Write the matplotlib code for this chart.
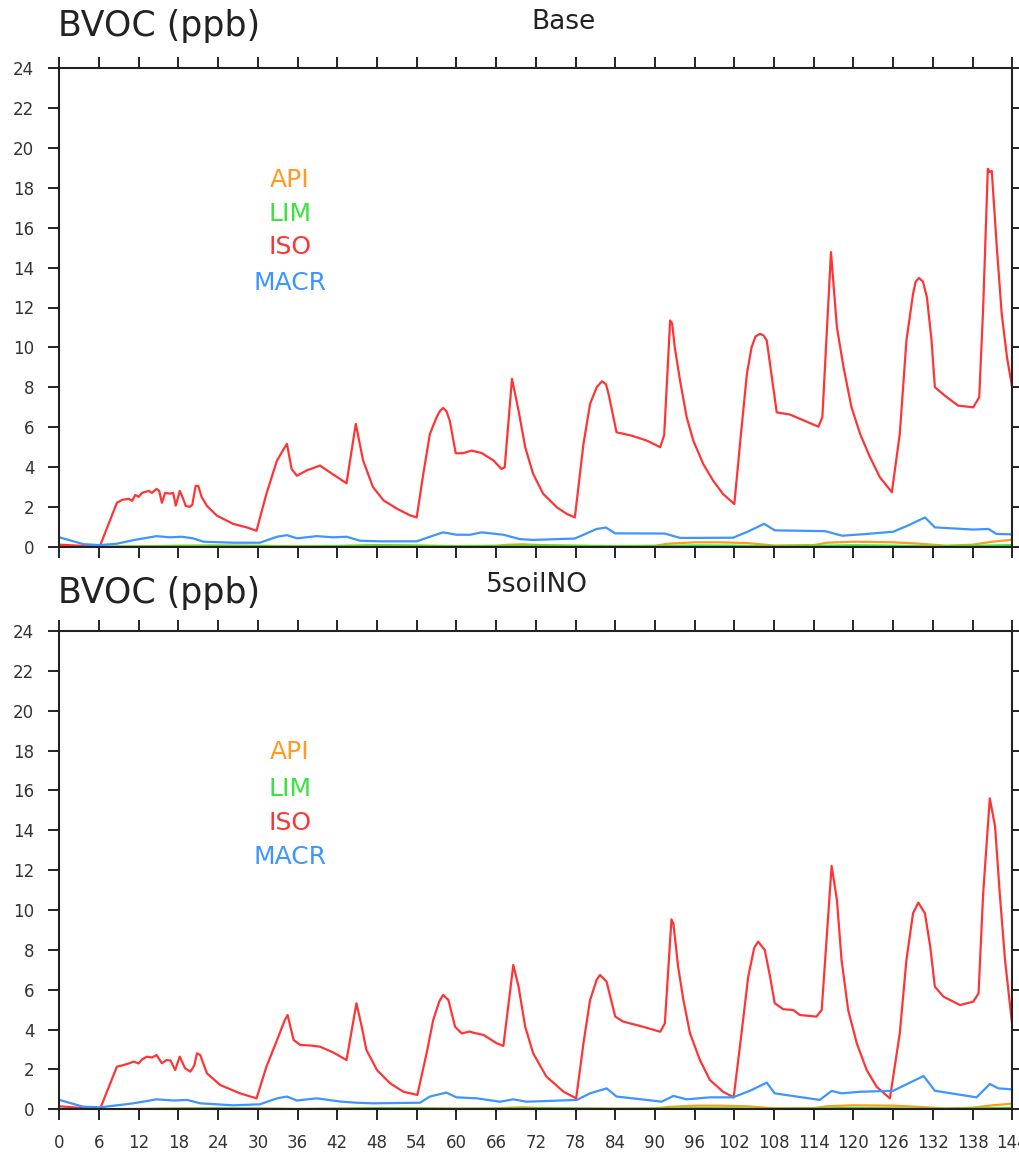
import matplotlib
matplotlib.use("Agg")
import matplotlib.pyplot as plt
import numpy as np

# ---- data (hours since start, ppb) ----
base_iso_h = [0, 3, 6.1, 8.7, 9.5, 10.5, 11.0, 11.5, 12.0, 12.5, 13.5, 14.0, 14.7, 15.1, 15.5,
              16.0, 16.7, 17.2, 17.6, 18.2, 18.6, 19.1, 19.7, 20.1, 20.6, 21.0, 21.5, 22.3, 23.8,
              26.3, 28.3, 29.8, 31.3, 32.9, 34.0, 34.4, 35.1, 35.9, 37.4, 39.4, 40.9, 43.4, 44.8,
              45.9, 47.4, 49.0, 51.0, 53.0, 54.0, 55.0, 56.0, 57.0, 57.5, 58.0, 58.5, 59.0, 59.9,
              61.0, 62.3, 63.8, 65.6, 66.8, 67.3, 68.4, 69.4, 70.4, 71.6, 73.1, 75.2, 76.7, 77.9,
              79.2, 80.2, 81.2, 82.0, 82.6, 83.0, 84.2, 86.5, 88.8, 90.8, 91.4, 92.3, 92.6, 93.0,
              93.8, 94.8, 95.8, 97.3, 98.8, 100.3, 102.0, 102.9, 103.9, 104.6, 105.2, 105.9,
              106.4, 106.9, 107.6, 108.4, 110.4, 114.7, 115.3, 116.6, 117.5, 118.5, 119.7, 121.0,
              122.5, 124.0, 125.8, 127.0, 128.0, 129.0, 129.4, 129.9, 130.5, 131.1, 131.8, 132.3,
              133.8, 135.8, 138.1, 139.0, 139.6, 140.3, 140.6, 140.9, 141.6, 142.4, 143.2, 144]
base_iso = [0.1, 0.05, 0.0, 2.2, 2.35, 2.4, 2.3, 2.6, 2.5, 2.7, 2.8, 2.7, 2.9, 2.8, 2.2,
            2.7, 2.66, 2.7, 2.06, 2.8, 2.5, 2.05, 2.0, 2.1, 3.05, 3.05, 2.5, 2.05, 1.56,
            1.14, 0.97, 0.80, 2.66, 4.33, 4.95, 5.16, 3.9, 3.56, 3.83, 4.07, 3.73, 3.18, 6.16,
            4.33, 2.99, 2.32, 1.91, 1.57, 1.47, 3.65, 5.66, 6.49, 6.8, 6.96, 6.8, 6.32, 4.69,
            4.69, 4.82, 4.70, 4.33, 3.90, 3.98, 8.42, 6.82, 4.99, 3.65, 2.66, 1.97, 1.64, 1.47,
            5.15, 7.16, 8.0, 8.30, 8.15, 7.66, 5.74, 5.57, 5.32, 4.99, 5.6, 11.35, 11.2, 10.0,
            8.33, 6.49, 5.32, 4.15, 3.31, 2.64, 2.14, 5.32, 8.67, 10.0, 10.55, 10.68,
            10.6, 10.34, 8.67, 6.74, 6.63, 6.02, 6.5, 14.78, 11.0, 9.0, 7.0, 5.66,
            4.49, 3.48, 2.73, 5.66, 10.34, 12.68, 13.3, 13.48, 13.3, 12.51, 10.34, 8.0,
            7.58, 7.08, 6.99, 7.5, 12.0, 18.96, 18.8, 18.85, 15.3, 11.68, 9.5, 7.95]

base_macr_h = [0, 3.6, 6.1, 8.7, 11.2, 14.7, 16.7, 18.5, 20.2, 21.8, 26.3, 30.3, 32.9, 34.4, 35.9,
               38.9, 41.4, 43.4, 45.4, 48.5, 54.0, 56.0, 58.0, 60.0, 62.1, 63.8, 67.1, 69.6, 71.6,
               77.9, 79.2, 81.2, 82.6, 84.0, 91.5, 93.8, 101.8, 104.0, 106.5, 108.1, 115.7, 118.3,
               122.0, 126.0, 128.5, 130.8, 132.3, 138.1, 140.4, 141.6, 144]
base_macr = [0.47, 0.13, 0.08, 0.15, 0.33, 0.53, 0.47, 0.5, 0.42, 0.25, 0.2, 0.2, 0.5, 0.58, 0.42,
             0.53, 0.47, 0.5, 0.3, 0.27, 0.27, 0.5, 0.72, 0.6, 0.6, 0.72, 0.6, 0.38, 0.34,
             0.41, 0.6, 0.89, 0.96, 0.67, 0.66, 0.44, 0.45, 0.75, 1.15, 0.82, 0.78, 0.55,
             0.64, 0.75, 1.1, 1.47, 0.97, 0.86, 0.89, 0.64, 0.62]

base_api_h = [0, 6, 12, 18, 24, 30, 36, 42, 48, 54, 60, 66, 68, 70, 73, 78, 84, 90, 92, 96,
              100, 104, 108, 114, 116, 120, 126, 130, 134, 138, 141, 144]
base_api = [0.0, 0.0, 0.02, 0.05, 0.06, 0.05, 0.02, 0.04, 0.08, 0.06, 0.03, 0.05, 0.1, 0.12,
            0.08, 0.05, 0.03, 0.05, 0.15, 0.22, 0.22, 0.18, 0.06, 0.08, 0.2, 0.25, 0.22, 0.15,
            0.05, 0.1, 0.25, 0.35]

base_lim_h = [0, 12, 18, 24, 30, 36, 42, 48, 54, 60, 66, 72, 78, 84, 90, 96, 102, 108, 114,
              120, 126, 132, 138, 144]
base_lim = [0.0, 0.01, 0.03, 0.04, 0.03, 0.01, 0.03, 0.05, 0.04, 0.02, 0.03, 0.05, 0.04, 0.02,
            0.03, 0.06, 0.05, 0.02, 0.04, 0.07, 0.05, 0.02, 0.04, 0.08]

soil_iso_h = [0, 3, 6.2, 8.7, 9.5, 10.5, 11.2, 12.0, 12.5, 13.2, 14.0, 14.7, 15.5, 16.2, 16.8,
              17.5, 18.2, 19.0, 19.8, 20.4, 20.8, 21.3, 22.3, 24.3, 27.3, 29.8, 31.3, 33.1, 34.1,
              34.5, 35.4, 36.4, 38.0, 39.4, 41.4, 43.4, 44.9, 45.7, 46.4, 48.0, 50.0, 52.0, 54.1,
              55.5, 56.5, 57.4, 58.0, 58.8, 59.8, 60.8, 62.0, 62.6, 64.1, 66.1, 67.1, 68.6, 69.4,
              70.4, 71.6, 73.6, 76.2, 78.1, 79.2, 80.2, 81.2, 81.7, 82.7, 84.0, 85.2, 88.2, 90.8,
              91.5, 92.5, 92.8, 93.5, 94.3, 95.3, 96.8, 98.3, 100.3, 101.9, 102.9, 104.1, 105.0,
              105.6, 106.6, 107.4, 108.1, 109.4, 110.9, 111.9, 114.4, 115.2, 116.7, 117.5, 118.2,
              119.2, 120.5, 122.0, 123.5, 125.5, 127.0, 128.0, 129.0, 129.8, 130.8, 131.6, 132.3,
              133.6, 136.1, 138.1, 138.9, 139.6, 140.6, 141.4, 142.1, 142.9, 143.9, 144]
soil_iso = [0.15, 0.08, 0.05, 2.14, 2.2, 2.3, 2.39, 2.3, 2.5, 2.64, 2.6, 2.72, 2.31, 2.47, 2.45,
            1.97, 2.64, 2.06, 1.89, 2.2, 2.81, 2.72, 1.81, 1.22, 0.80, 0.55, 2.14, 3.64, 4.5,
            4.73, 3.48, 3.23, 3.2, 3.14, 2.85, 2.47, 5.32, 4.14, 2.98, 1.97, 1.30, 0.88, 0.72,
            2.81, 4.48, 5.4, 5.74, 5.48, 4.14, 3.81, 3.9, 3.84, 3.73, 3.31, 3.18, 7.24, 6.15,
            4.14, 2.81, 1.64, 0.88, 0.55, 3.31, 5.48, 6.5, 6.74, 6.4, 4.65, 4.40, 4.14, 3.89,
            4.31, 9.53, 9.3, 7.16, 5.48, 3.81, 2.47, 1.47, 0.88, 0.60, 3.31, 6.65, 8.1,
            8.41, 7.99, 6.65, 5.32, 5.02, 4.98, 4.73, 4.65, 4.98, 12.21, 10.5, 7.49,
            4.98, 3.31, 1.97, 1.13, 0.55, 3.81, 7.49, 9.83, 10.37, 9.83, 8.16, 6.15,
            5.65, 5.23, 5.4, 5.82, 10.84, 15.6, 14.18, 10.84, 7.49, 4.48, 4.2]

soil_macr_h = [0, 3.6, 6.2, 8.7, 11.2, 14.7, 17.3, 19.3, 21.3, 26.3, 30.3, 32.9, 34.4, 35.9,
               38.9, 42.4, 44.9, 47.4, 54.5, 56.0, 58.5, 60.0, 63.1, 66.6, 68.6, 70.6, 78.2,
               80.2, 82.7, 84.2, 89.8, 91.0, 92.8, 94.8, 98.3, 101.8, 104.5, 106.9, 108.1, 114.9,
               116.7, 118.2, 121.0, 126.0, 130.6, 132.3, 138.6, 140.6, 141.9, 144]
soil_macr = [0.47, 0.13, 0.1, 0.2, 0.3, 0.5, 0.44, 0.47, 0.3, 0.2, 0.25, 0.55, 0.64, 0.44,
             0.55, 0.39, 0.33, 0.3, 0.33, 0.64, 0.84, 0.6, 0.55, 0.38, 0.5, 0.38, 0.47,
             0.8, 1.05, 0.64, 0.43, 0.38, 0.67, 0.5, 0.6, 0.6, 0.95, 1.34, 0.8, 0.47,
             0.92, 0.8, 0.88, 0.93, 1.67, 0.93, 0.6, 1.27, 1.05, 1.0]

soil_api_h = base_api_h
soil_api = [0.0, 0.0, 0.02, 0.04, 0.05, 0.04, 0.02, 0.03, 0.06, 0.05, 0.03, 0.04, 0.08, 0.1,
            0.06, 0.04, 0.03, 0.04, 0.12, 0.18, 0.18, 0.15, 0.05, 0.06, 0.15, 0.2, 0.18, 0.12,
            0.04, 0.08, 0.2, 0.28]
soil_lim_h = base_lim_h
soil_lim = base_lim

panels = [
    ("Base", base_api_h, base_api, base_lim_h, base_lim, base_iso_h, base_iso, base_macr_h, base_macr),
    ("5soilNO", soil_api_h, soil_api, soil_lim_h, soil_lim, soil_iso_h, soil_iso, soil_macr_h, soil_macr),
]

species = ["API", "LIM", "ISO", "MACR"]
colors = {"API": "#ff9a22", "LIM": "#3ee23e", "ISO": "#ff3535", "MACR": "#3d95ff"}

W, H = 1020, 1152
fig = plt.figure(figsize=(W / 100, H / 100), dpi=100)


def fx(px):
    return px / W


def fy(py):
    return 1 - py / H


# axes boxes in pixels: left, top, right, bottom
boxes = [(59.3, 68.3, 1012.3, 546.7), (59.3, 630.9, 1012.3, 1109.3)]
title_base = [36, 603]
center_pos = [(563, 29), (537, 592)]
legend_y = [[180, 214, 247, 283], [752, 789, 823, 857]]

for i, (name, ah, a, lh, l, ih, iso, mh, m) in enumerate(panels):
    l0, t0, r0, b0 = boxes[i]
    ax = fig.add_axes([fx(l0), fy(b0), fx(r0 - l0), (b0 - t0) / H])
    ax.plot(ah, a, color=colors["API"], lw=1.6)
    ax.plot(lh, l, color=colors["LIM"], lw=1.6)
    ax.plot(ih, iso, color=colors["ISO"], lw=1.6)
    ax.plot(mh, m, color=colors["MACR"], lw=1.6)

    ax.set_xlim(0, 144)
    ax.set_ylim(0, 24)
    ax.set_xticks(np.arange(0, 145, 6))
    ax.set_yticks(np.arange(0, 25, 2))
    ax.tick_params(direction="out", length=8, width=1.2, color="black",
                   top=True, right=True, labelsize=12, labelcolor="#333333", pad=10)
    if i == 0:
        ax.tick_params(labelbottom=False)
    for sp in ax.spines.values():
        sp.set_linewidth(1.5)
        sp.set_color("#222222")

    fig.text(fx(58), fy(title_base[i]), "BVOC (ppb)", fontsize=25, color="#222222",
             ha="left", va="baseline")
    cx, cy = center_pos[i]
    fig.text(fx(cx), fy(cy), name, fontsize=19, color="#222222", ha="center", va="baseline")
    for sp_name, yy in zip(species, legend_y[i]):
        fig.text(fx(290), fy(yy), sp_name, fontsize=18, color=colors[sp_name],
                 ha="center", va="center")

fig.savefig("out.png", dpi=100)
